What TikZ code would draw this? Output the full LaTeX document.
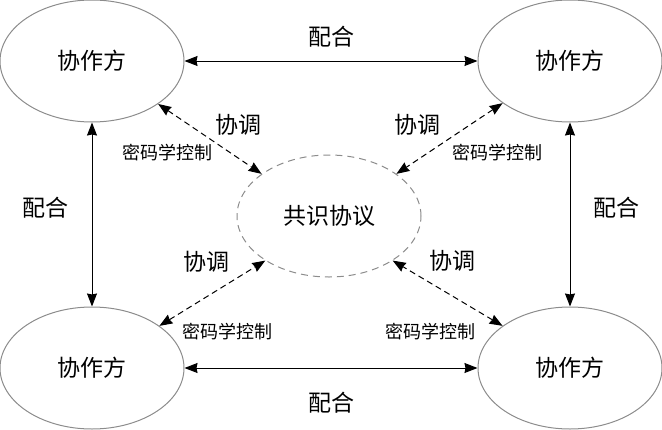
\documentclass[tikz,border=0pt]{standalone}
\usepackage{fontspec}
\setmainfont{Noto Sans CJK SC}
\usetikzlibrary{shapes.geometric,arrows.meta}
\tikzset{
  party/.style={ellipse,draw=black!45,line width=1pt,minimum width=184pt,minimum height=122pt,inner sep=0pt,font=\fontsize{23}{23}\selectfont},
  proto/.style={party,dash pattern=on 7pt off 5pt},
  solidarr/.style={line width=1pt,{Stealth[length=13pt,width=10pt,inset=1pt]}-{Stealth[length=13pt,width=10pt,inset=1pt]}},
  dasharr/.style={solidarr,dash pattern=on 6pt off 4pt},
  biglbl/.style={inner sep=0pt,font=\fontsize{23}{23}\selectfont},
  smalllbl/.style={inner sep=0pt,font=\fontsize{18}{18}\selectfont}
}
\begin{document}
\begin{tikzpicture}[x=1pt,y=-1pt]
\useasboundingbox (0,0) rectangle (662,429);
\node[party] (tl) at (92,61) {协作方};
\node[party] (tr) at (570,61) {协作方};
\node[party] (bl) at (92,368) {协作方};
\node[party] (br) at (570,368) {协作方};
\node[proto] (c) at (329,216) {共识协议};

\draw[solidarr] (tl.east) -- (tr.west);
\draw[solidarr] (bl.east) -- (br.west);
\draw[solidarr] (tl.south) -- (bl.north);
\draw[solidarr] (tr.south) -- (br.north);

\draw[dasharr] (tl.-33) -- (c.148);
\draw[dasharr] (tr.212) -- (c.32);
\draw[dasharr] (bl.32) -- (c.215);
\draw[dasharr] (br.148) -- (c.-35);

\node[biglbl] (l1) at (331,37) {配合};
\node[biglbl] (l2) at (331,403) {配合};
\node[biglbl] (l3) at (46,208) {配合};
\node[biglbl] (l4) at (616,208) {配合};

\node[biglbl] (x1) at (238,125) {协调};
\node[biglbl] (x2) at (417,125) {协调};
\node[biglbl] (x3) at (206,262) {协调};
\node[biglbl] (x4) at (452,261) {协调};

\node[smalllbl] (s1) at (167,153) {密码学控制};
\node[smalllbl] (s2) at (497,153) {密码学控制};
\node[smalllbl] (s3) at (227,332) {密码学控制};
\node[smalllbl] (s4) at (430,332) {密码学控制};
\end{tikzpicture}
\end{document}
